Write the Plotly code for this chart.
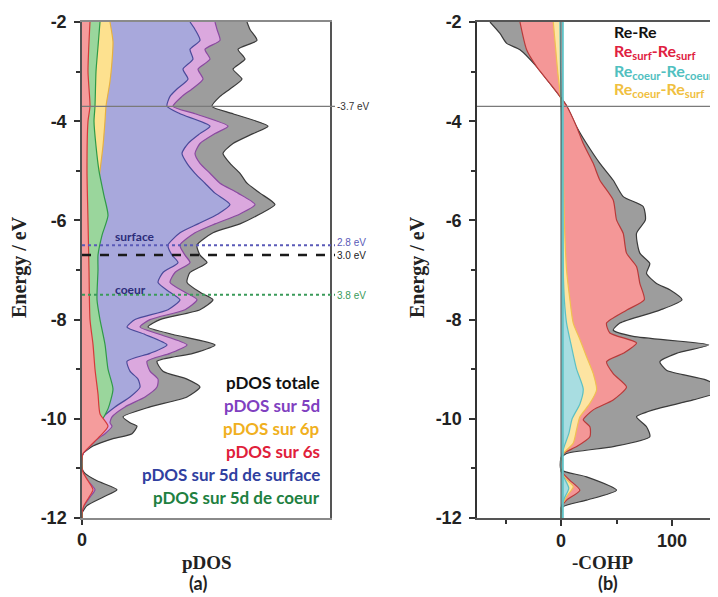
import plotly.graph_objects as go

W, H = 718, 597
OFF = 8  # page body margin of the browser

# ---------------- Panel (a): pDOS ----------------
energy_pdos = [-2.0, -2.15, -2.37, -2.55, -2.75, -2.95, -3.15, -3.35, -3.5, -3.7,
               -3.85, -4.1, -4.25, -4.45, -4.65, -4.85, -5.05, -5.25, -5.45, -5.68,
               -5.87, -6.07, -6.25, -6.5, -6.7, -6.85, -7.05, -7.25, -7.45, -7.6,
               -7.8, -8.0, -8.15, -8.3, -8.51, -8.68, -8.84, -9.04, -9.2, -9.36,
               -9.56, -9.76, -9.96, -10.08, -10.15, -10.3, -10.4, -10.55, -10.7, -10.8,
               -11.0, -11.1, -11.25, -11.43, -11.58, -11.75, -11.9, -12.0]
pdos_total = [66, 67.2, 70, 62.4, 65.2, 60.4, 64, 59.2, 55.2, 52,
              60.4, 74.4, 68.4, 60.4, 56.4, 59.2, 63.2, 66, 71.2, 77.2,
              71.2, 63.2, 52.4, 46, 47.2, 50, 43.2, 42, 47.2, 52.4,
              47.2, 31.2, 26.4, 36.4, 53.2, 44.4, 30, 32.4, 42, 47.2,
              42, 27.2, 16.4, 19.2, 22, 20, 12.4, 4.4, 0.4, 0,
              0, 1.2, 6, 14, 8.4, 2, 0, 0]
pdos_5d = [53.2, 54, 55.2, 49.2, 51.2, 46.4, 48.4, 44, 40, 36.4,
           45.2, 58.4, 53.2, 47.2, 45.2, 47.2, 51.2, 55.2, 62.4, 69.2,
           63.2, 53.2, 45.2, 39.2, 41.2, 43.2, 37.2, 35.2, 41.2, 46,
           41.2, 27.2, 23.2, 31.2, 42, 35.2, 26, 27.2, 30.4, 30,
           25.2, 17.2, 12, 11.2, 12, 9.2, 6.4, 3.2, 0.4, 0,
           0, 0.4, 2.4, 5.2, 3.2, 0.8, 0, 0]
pdos_5d_surface = [43.2, 45.2, 47.2, 43.2, 44.4, 40.4, 42.4, 38, 35.2, 34,
                   39.2, 51.2, 47.2, 42.4, 40, 42, 45.2, 49.2, 53.2, 59.2,
                   54.4, 46.4, 39.2, 34.4, 36, 38.4, 32.4, 30.4, 35.2, 39.2,
                   34.4, 21.2, 18, 25.2, 34, 27.2, 18, 19.2, 22.4, 23.2,
                   19.2, 13.2, 8.4, 6.4, 6, 4.4, 3.2, 1.6, 0.4, 0,
                   0, 0, 0.8, 1.6, 0.8, 0, 0, 0]

energy_6p = [-2.0, -2.4, -2.8, -3.2, -3.7, -4.0, -4.5, -5.0, -5.5, -6.0, -6.5,
             -7.0, -8.0, -9.0, -10.0, -10.5, -10.75, -11.0, -11.4, -11.8, -12.0]
pdos_6p = [11.2, 12.4, 12, 11.2, 9.6, 9.2, 8.4, 7.2, 6, 5.2, 4.4,
           4, 4, 4, 2.4, 0.8, 0, 0, 1.2, 0, 0]

energy_coeur = [-2.0, -2.5, -3.0, -3.7, -4.0, -4.5, -5.0, -5.5, -5.9, -6.3, -6.7,
                -7.0, -7.6, -8.0, -8.5, -9.0, -9.4, -9.8, -10.1, -10.4, -10.6,
                -10.75, -11.0, -11.4, -11.8, -12.0]
pdos_5d_coeur = [7.2, 6.4, 5.6, 5.2, 4.8, 5.6, 6.8, 8.8, 10.4, 8, 6.4,
                 6.4, 6, 7.2, 9.2, 10.4, 12.4, 10.4, 7.2, 4, 1.2,
                 0, 0, 0.8, 0, 0]

energy_6s = [-2.0, -3.0, -3.7, -4.0, -5.0, -6.0, -7.0, -8.0, -8.5, -9.0, -9.5,
             -9.9, -10.15, -10.35, -10.55, -10.7, -10.8, -11.0, -11.1, -11.25,
             -11.43, -11.58, -11.75, -11.9, -12.0]
pdos_6s = [3.2, 2.4, 3.2, 2.4, 2, 2.4, 2.8, 3.2, 4.4, 5.2, 6.4,
           7.2, 10.4, 7.2, 3.2, 0.4, 0, 0, 0.6, 2.4,
           4.4, 2.8, 0.8, 0, 0]

# ---------------- Panel (b): -COHP ----------------
energy_rere = [-2.0, -2.23, -2.43, -2.56, -2.9, -3.24, -3.5, -3.69, -4.11, -4.45,
               -4.85, -5.19, -5.52, -5.72, -5.99, -6.26, -6.66, -6.87, -7.07, -7.27,
               -7.4, -7.6, -7.81, -8.07, -8.21, -8.34, -8.51, -8.68, -8.85, -9.02,
               -9.22, -9.42, -9.62, -9.82, -9.96, -10.16, -10.36, -10.56, -10.7, -10.8,
               -11.03, -11.17, -11.44, -11.64, -11.77, -11.9, -12.0]
cohp_rere = [-64, -55, -49, -37, -22, -10, -1, 5, 14, 23,
             35, 47, 56, 74, 76, 68, 71, 80, 77, 86,
             98, 109, 89, 53, 47, 65, 133, 104, 89, 95,
             131, 146, 119, 83, 68, 77, 80, 47, 5, 0,
             0, 23, 50, 23, 2, 0, 0]

energy_surf = [-2.0, -2.56, -2.9, -3.24, -3.5, -3.69, -4.11, -4.45, -4.85, -5.19,
               -5.59, -5.99, -6.26, -6.66, -6.93, -7.27, -7.6, -7.81, -8.07, -8.27,
               -8.47, -8.68, -8.85, -9.09, -9.36, -9.62, -9.82, -10.02, -10.16, -10.36,
               -10.56, -10.7, -10.8, -11.05, -11.24, -11.44, -11.64, -11.8, -12.0]
cohp_surf_surf = [-37, -31, -22, -10, -1, 5, 14, 20, 29, 35,
                  47, 50, 56, 59, 68, 71, 75, 59, 41, 44,
                  68, 56, 41, 47, 59, 47, 29, 20, 26, 26,
                  14, 2, 0, 0, 8, 17, 5, 0, 0]

energy_cs = [-2.0, -2.5, -3.0, -3.5, -4.0, -5.0, -6.0, -7.0, -7.6, -8.07, -8.4,
             -8.75, -9.09, -9.42, -9.69, -9.96, -10.22, -10.49, -10.7, -10.8,
             -11.05, -11.2, -11.37, -11.57, -11.8, -12.0]
cohp_coeur_surf = [-7, -5, -3, -0.5, 1, 2, 3, 5, 8, 11, 17,
                   23, 29, 32, 26, 17, 14, 11, 2, 0,
                   0, 4, 11, 5, 0, 0]

energy_cc = [-2.0, -3.0, -4.0, -5.0, -6.0, -7.0, -7.6, -8.07, -8.5, -9.0, -9.4,
             -9.7, -10.0, -10.3, -10.55, -10.7, -10.8, -11.05, -11.2, -11.4,
             -11.6, -11.8, -12.0]
cohp_coeur_coeur = [-1, -0.5, 0.5, 1, 1.5, 2, 3, 5, 9, 14, 20,
                    17, 10, 7, 3, 1, 0, 0, 3, 7,
                    3, 0, 0]

# tick labels
energy_ticks = [-12, -10, -8, -6, -4, -2]
energy_ticktext = ['-12', '-10', '-8', '-6', '-4', '-2']
energy_minor = [-11, -9, -7, -5, -3]
cohp_ticks = [0, 100]
cohp_ticktext = ['0', '100']
cohp_minor = [-50, 50]

# reference energies (eV)
e_fermi = -3.7
e_surface = -6.5
e_mid = -6.7
e_coeur = -7.5

pdos_labels = ['pDOS totale', 'pDOS sur 5d', 'pDOS sur 6p', 'pDOS sur 6s',
               'pDOS sur 5d de surface', 'pDOS sur 5d de coeur']
cohp_labels = ['Re-Re', 'Re<sub>surf</sub>-Re<sub>surf</sub>',
               'Re<sub>coeur</sub>-Re<sub>coeur</sub>', 'Re<sub>coeur</sub>-Re<sub>surf</sub>']


def px(x):
    return (x - OFF) / W


def py(y):
    return 1 - (y - OFF) / H


fig = go.Figure()


def area(xv, yv, fillc, linec, xa, ya, width=1.2):
    fig.add_trace(go.Scatter(
        x=xv, y=yv, mode='lines', fill='tozerox', fillcolor=fillc,
        line=dict(color=linec, width=width, shape='spline', smoothing=0.6),
        xaxis=xa, yaxis=ya, hoverinfo='skip', showlegend=False))


# panel (a)
area(pdos_total, energy_pdos, '#9d9d9d', '#3a3a3a', 'x', 'y')
area(pdos_5d, energy_pdos, '#dba8de', '#8a4aa0', 'x', 'y')
area(pdos_5d_surface, energy_pdos, '#a8a8dc', '#4a4a9a', 'x', 'y')
area(pdos_6p, energy_6p, '#fde18f', '#e6b040', 'x', 'y')
area(pdos_5d_coeur, energy_coeur, '#9ad69c', '#2f9a48', 'x', 'y')
area(pdos_6s, energy_6s, '#f59c9c', '#d43a3a', 'x', 'y')

# panel (b)
area(cohp_rere, energy_rere, '#9d9d9d', '#3a3a3a', 'x2', 'y2')
area(cohp_surf_surf, energy_surf, '#f49797', '#b83a3a', 'x2', 'y2')
area(cohp_coeur_surf, energy_cs, '#fde4a2', '#f0c050', 'x2', 'y2')
area(cohp_coeur_coeur, energy_cc, '#a8dde1', '#5cc0c4', 'x2', 'y2')

tickfont = dict(family='Liberation Sans, Arial', size=18, color='#222', weight='bold')

common_y = dict(range=[-12, -2], tickmode='array', tickvals=energy_ticks,
                ticktext=energy_ticktext, ticks='outside', ticklen=6, tickwidth=1.5,
                tickcolor='#333',
                minor=dict(tickmode='array', tickvals=energy_minor, ticks='outside',
                           ticklen=4, tickwidth=1.5, tickcolor='#333'),
                showline=True, linewidth=1.5, showgrid=False, zeroline=False,
                tickfont=tickfont, ticklabelstandoff=4, automargin=False,
                domain=[py(518), py(22)])

fig.update_layout(
    width=W, height=H, autosize=False,
    margin=dict(l=0, r=0, t=0, b=0, pad=0),
    paper_bgcolor='white', plot_bgcolor='white',
    xaxis=dict(domain=[px(82), px(330)], range=[0, 99.2], tickmode='array',
               tickvals=[0], ticktext=['0'], ticks='outside', ticklen=5, tickwidth=1.5,
               tickcolor='#333', showline=True, linecolor='#8a8a8a', linewidth=1.5,
               mirror=True, showgrid=False, zeroline=False, tickfont=tickfont,
               automargin=False, anchor='y'),
    yaxis=dict(common_y, anchor='x', linecolor='#555', mirror=True),
    xaxis2=dict(domain=[px(477), px(718)], range=[-75.7, 141.4], tickmode='array',
                tickvals=cohp_ticks, ticktext=cohp_ticktext, ticks='outside',
                ticklen=6, tickwidth=1.5, tickcolor='#333',
                minor=dict(tickmode='array', tickvals=cohp_minor, ticks='outside',
                           ticklen=4, tickwidth=1.5, tickcolor='#333'),
                showline=True, linecolor='#555', linewidth=1.5, mirror=True,
                showgrid=False, zeroline=False, tickfont=tickfont,
                automargin=False, anchor='y2'),
    yaxis2=dict(common_y, anchor='x2', linecolor='#333', mirror=False),
)

# horizontal reference lines, panel (a)
fig.add_shape(type='line', xref='paper', yref='y', x0=px(82), x1=px(335),
              y0=e_fermi, y1=e_fermi, line=dict(color='#7a7a7a', width=1.2))
fig.add_shape(type='line', xref='paper', yref='y', x0=px(82), x1=px(335),
              y0=e_surface, y1=e_surface, line=dict(color='#5a5ab8', width=2, dash='dot'))
fig.add_shape(type='line', xref='paper', yref='y', x0=px(82), x1=px(335),
              y0=e_mid, y1=e_mid, line=dict(color='#1a1a1a', width=2.5, dash='dash'))
fig.add_shape(type='line', xref='paper', yref='y', x0=px(82), x1=px(335),
              y0=e_coeur, y1=e_coeur, line=dict(color='#3a9a5a', width=2, dash='dot'))
# panel (b)
fig.add_shape(type='line', xref='paper', yref='y2', x0=px(477), x1=px(718),
              y0=e_fermi, y1=e_fermi, line=dict(color='#7a7a7a', width=1.2))
fig.add_shape(type='line', xref='x2', yref='y2', x0=1.6, x1=1.6, y0=-12, y1=-2,
              line=dict(color='#62c4c8', width=2))
fig.add_shape(type='line', xref='x2', yref='y2', x0=0, x1=0, y0=-12, y1=-2,
              line=dict(color='#444', width=1))


def note(text, x, y, size, color, family='Lato', xanchor='center', angle=0, bold=True):
    fig.add_annotation(text=text, x=px(x), y=py(y), xref='paper', yref='paper',
                       showarrow=False, xanchor=xanchor, yanchor='middle',
                       textangle=angle,
                       font=dict(family=family, size=size, color=color,
                                 weight='bold' if bold else 'normal'))


serif = 'Liberation Serif, Times New Roman'
note('Energy / eV', 20, 267, 20, '#222', serif, angle=-90)
note('Energy / eV', 418, 267, 20, '#222', serif, angle=-90)
note('pDOS', 207, 562, 19, '#222', serif)
note('-COHP', 603, 562, 19, '#222', serif)
note('(a)', 198, 583, 18, '#222', 'Lato')
note('(b)', 608, 583, 18, '#222', 'Lato')

note('-3.7 eV', 335, 106, 10, '#333', 'Liberation Sans', xanchor='left', bold=False)
note('2.8 eV', 335, 243, 10, '#5a5ab8', 'Liberation Sans', xanchor='left', bold=False)
note('3.0 eV', 335, 255, 10, '#222', 'Liberation Sans', xanchor='left', bold=False)
note('3.8 eV', 335, 295, 10, '#3a9a5a', 'Liberation Sans', xanchor='left', bold=False)
note('surface', 113, 236, 12, '#2d2d7a', 'Lato', xanchor='left')
note('coeur', 113, 289, 12, '#2d2d7a', 'Lato', xanchor='left')

pdos_colors = ['#111111', '#8040c0', '#f0b020', '#e0203a', '#3040a0', '#208040']
pdos_y = [382, 405, 428, 451, 474, 497]
for t, c, yy in zip(pdos_labels, pdos_colors, pdos_y):
    note(t, 322, yy, 17, c, 'Lato', xanchor='right')

cohp_colors = ['#111111', '#e02040', '#50c0c0', '#f0c040']
cohp_y = [32, 51, 71, 90]
for t, c, yy in zip(cohp_labels, cohp_colors, cohp_y):
    note(t, 612, yy, 16, c, 'Lato', xanchor='left')

fig.write_html('out.html')
